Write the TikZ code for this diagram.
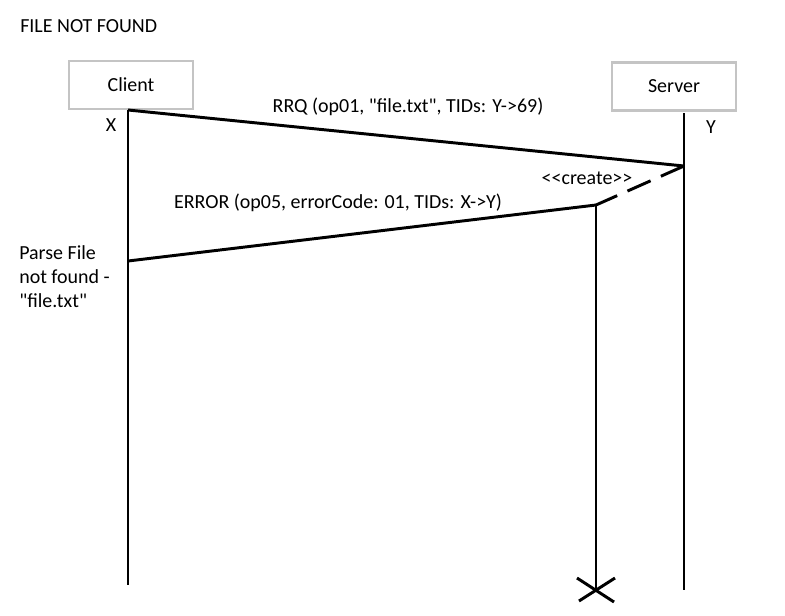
\documentclass[tikz,border=0pt]{standalone}
\usepackage{fontspec}
\setmainfont{Carlito}[Ligatures=TeXOff]
\usepackage{tikz}
\usetikzlibrary{calc,positioning}
\definecolor{boxgray}{RGB}{196,196,196}
\tikzset{
    actor/.style={
    rectangle,draw=boxgray,line width=2.1pt,minimum width=3.1cm,minimum height=1.2cm
    },
    lifeline/.style={
    draw=black,line width=2.1pt
    },
    msg/.style={
    draw=black,line width=2.1pt
    },
    create/.style={
    draw=black,line width=2.1pt,dash pattern=on 18pt off 8pt
    },
    note/.style={
    inner sep=0pt,align=left
    },
}

\begin{document}
\begin{tikzpicture}[font=\fontsize{14.2}{17}\selectfont]
   \useasboundingbox (0,0) rectangle (19.625,-15.375);
   \node[note,anchor=west] (T) at (0.5,-0.65) {FILE NOT FOUND};
   \node[actor] (C) at (3.275,-2.125) {Client};
   \node[actor] (S) at (16.85,-2.16) {Server};
   \coordinate (c0) at (3.2,-2.75);
   \coordinate (c1) at (3.2,-6.525);
   \coordinate (c2) at (3.2,-14.625);
   \coordinate (s0) at (17.1,-2.825);
   \coordinate (s1) at (17.1,-4.15);
   \coordinate (s2) at (17.1,-14.75);
   \coordinate (h0) at (14.9,-5.125);
   \coordinate (h1) at (14.9,-14.75);
   \node (X) at (2.775,-3.125) {X};
   \node (Y) at (17.775,-3.175) {Y};
   \node (rrq) at (10.2,-2.675) {RRQ (op01, "file.txt", TIDs: Y->69)};
   \node (cr) at (14.675,-4.45) {<<create>>};
   \node (err) at (8.45,-5.075) {ERROR (op05, errorCode: 01, TIDs: X->Y)};
   \node[note,anchor=west] (N) at (0.475,-6.925) {Parse File\\not found -\\"file.txt"};

  \path[lifeline]
    (c0) edge node {} (c2)
    (s0) edge node {} (s2)
    (h0) edge node {} (h1);
  \path[msg]
    (c0) edge node {} (s1)
    (h0) edge node {} (c1);
  \path[create]
    (s1) edge node {} (h0);
  \draw[lifeline] (h1) ++(-0.475,0.3) -- ++(0.925,-0.6);
  \draw[lifeline] (h1) ++(-0.425,-0.275) -- ++(0.9,0.575);
\end{tikzpicture}
\end{document}
